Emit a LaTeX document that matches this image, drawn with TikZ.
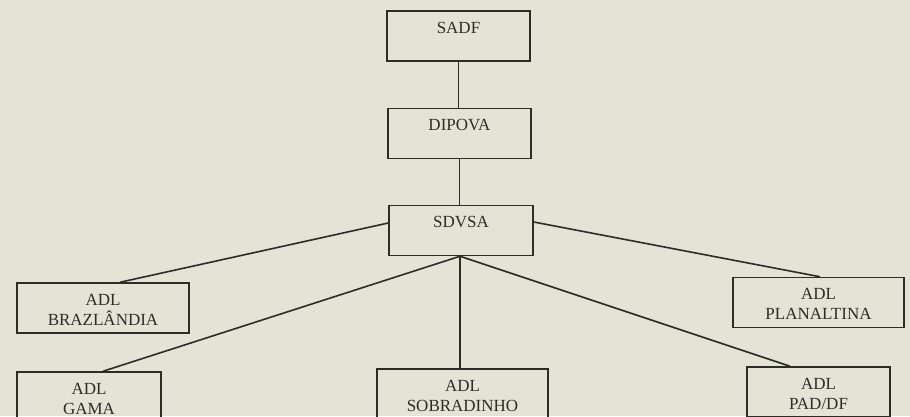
\documentclass[tikz,border=0pt]{standalone}
\usepackage{fontspec}
\setmainfont{Liberation Serif}
\definecolor{paper}{RGB}{229,226,214}
\definecolor{ink}{RGB}{45,45,40}
\tikzset{
  orgnode/.style = {rectangle, align=center, inner xsep=0pt, inner ysep=0pt, draw=ink, line width=1.5pt, text=ink, font=\fontsize{17}{20}\selectfont},
  % one line: text sits in the upper part of the box
  org_one/.style = {orgnode, text height=22pt, text depth=28pt},
  % two lines: ADL over the place name
  org_two/.style = {orgnode, text height=42pt, text depth=8pt},
  link/.style = {draw=ink, line width=1.6pt}
}
\begin{document}
\begin{tikzpicture}[x=1pt,y=-1pt]
  \fill [paper] (0,0) rectangle (910,416);
  \useasboundingbox (0,0) rectangle (910,416);
  % Top chain:
  \node [org_one, minimum width=143pt] (sadf)   at (458.5,36)  {SADF};
  \node [org_one, minimum width=143pt] (dipova) at (459.5,133.5) {DIPOVA};
  \node [org_one, minimum width=144pt] (sdvsa)  at (461,230.5) {SDVSA};
  % Upper row of ADL nodes:
  \node [org_two, minimum width=172pt] (braz) at (103,308)   {ADL\\BRAZLÂNDIA};
  \node [org_two, minimum width=171pt] (plan) at (818.5,302.5) {ADL\\PLANALTINA};
  % Lower row of ADL nodes:
  \node [org_two, minimum width=144pt] (gama) at (89,397)    {ADL\\GAMA};
  \node [org_two, minimum width=171pt] (sob)  at (462.5,394) {ADL\\SOBRADINHO};
  \node [org_two, minimum width=143pt] (pad)  at (818.5,392) {ADL\\PAD/DF};
  % Links:
  \draw [link] (sadf.south) -- (sadf.south |- dipova.north);
  \draw [link] (dipova.south) -- (dipova.south |- sdvsa.north);
  \draw [link] ([yshift=7.5pt]sdvsa.west) -- ([xshift=17pt]braz.north);
  \draw [link] ([yshift=8.5pt]sdvsa.east) -- ([xshift=1.5pt]plan.north);
  \draw [link] ([xshift=-1pt]sdvsa.south) -- ([xshift=14pt]gama.north);
  \draw [link] ([xshift=-1pt]sdvsa.south) -- ([xshift=-1pt]sdvsa.south |- sob.north);
  \draw [link] ([xshift=-1pt]sdvsa.south) -- ([xshift=-28.5pt]pad.north);
\end{tikzpicture}
\end{document}
